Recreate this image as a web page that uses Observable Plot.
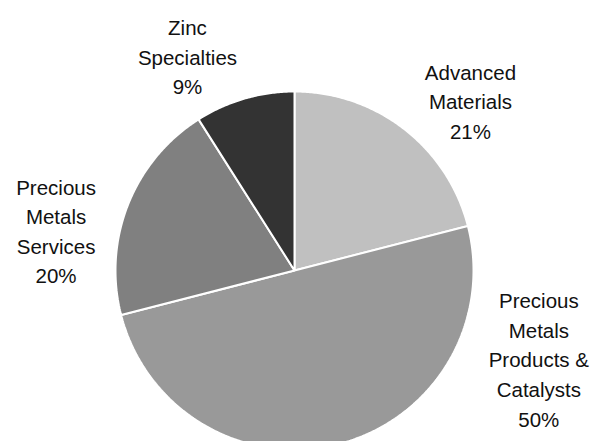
<!DOCTYPE html>
<html>
<head>
<meta charset="utf-8">
<script src="https://cdn.jsdelivr.net/npm/d3@7"></script>
<script src="https://cdn.jsdelivr.net/npm/@observablehq/plot@0.6"></script>
<style>
  html, body { margin: 0; padding: 0; background: #fff; }
  #chart svg { display: block; }
</style>
</head>
<body>
<div id="chart"></div>
<script>
// Segment share of sales, clockwise from 12 o'clock
const segments = ["Advanced Materials", "Precious Metals Products & Catalysts", "Precious Metals Services", "Zinc Specialties"];
const shares = [21, 50, 20, 9];
const labelLines = [
  ["Advanced", "Materials"],
  ["Precious", "Metals", "Products &", "Catalysts"],
  ["Precious", "Metals", "Services"],
  ["Zinc", "Specialties"]
];
const fills = ["#c0c0c0", "#999999", "#808080", "#333333"];

// Label anchors in pie-radius units, relative to the pie centre
const labelAnchor = [
  {dx: 0.983, dy: 0.953},
  {dx: 1.365, dy: -0.489},
  {dx: -1.332, dy: 0.228},
  {dx: -0.598, dy: 1.201}
];

const W = 594, H = 441, R = 179, CX = 294, CY = 270;

const arcs = d3.pie().sort(null).value(d => d.share)(
  segments.map((name, i) => ({name, share: shares[i]}))
);

// Each slice as a closed polygon: centre, then points along the arc
const polys = [];
arcs.forEach(a => {
  polys.push({name: a.data.name, x: 0, y: 0});
  const n = Math.max(2, Math.ceil((a.endAngle - a.startAngle) / (Math.PI / 360)));
  for (let k = 0; k <= n; k++) {
    const t = a.startAngle + (a.endAngle - a.startAngle) * k / n;
    polys.push({name: a.data.name, x: Math.sin(t), y: Math.cos(t)});
  }
});

const labels = arcs.map((a, i) => ({
  text: [...labelLines[i], `${a.data.share}%`].join("\n"),
  x: labelAnchor[i].dx,
  y: labelAnchor[i].dy
}));

const chart = Plot.plot({
  width: W,
  height: H,
  margin: 0,
  x: {domain: [-CX / R, (W - CX) / R], axis: null},
  y: {domain: [-(H - CY) / R, CY / R], axis: null},
  color: {domain: segments, range: fills},
  style: {fontFamily: "'Liberation Sans', Arial, sans-serif", background: "#fff"},
  marks: [
    Plot.line(polys, {x: "x", y: "y", z: "name", fill: "name", stroke: "#fff", strokeWidth: 2, curve: "linear-closed", strokeLinejoin: "miter"}),
    Plot.text(labels, {x: "x", y: "y", text: "text", fontSize: 20.5, lineHeight: 1.44, fill: "#111", textAnchor: "middle", lineAnchor: "middle"})
  ]
});
document.getElementById("chart").appendChild(chart);
</script>
</body>
</html>
